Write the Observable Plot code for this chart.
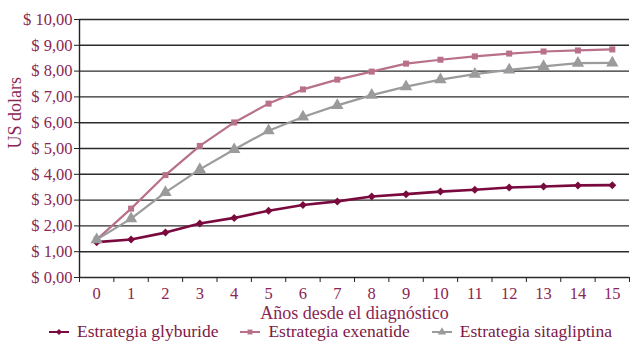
<!DOCTYPE html>
<html>
<head>
<meta charset="utf-8">
<script src="https://cdn.jsdelivr.net/npm/d3@7"></script>
<script src="https://cdn.jsdelivr.net/npm/@observablehq/plot@0.6"></script>
<style>
  html, body { margin: 0; padding: 0; background: #fff; }
  #wrap { position: relative; width: 631px; height: 342px; overflow: hidden; font-family: "Liberation Serif", "DejaVu Serif", serif; }
  #chart { position: absolute; left: 0; top: 0; }
  #legend { position: absolute; left: 49px; top: 322px; width: 582px; display: flex; justify-content: flex-start; gap: 22px;
            font-size: 17.5px; line-height: 19px; color: #7d1846; white-space: nowrap; }
  #legend .item { display: flex; align-items: center; gap: 8px; }
</style>
</head>
<body>
<div id="wrap">
  <div id="chart"></div>
  <div id="legend"></div>
</div>
<script>
// Años desde el diagnóstico
const years = [0, 1, 2, 3, 4, 5, 6, 7, 8, 9, 10, 11, 12, 13, 14, 15];
// Costo acumulado (US dolars) por estrategia
const glyburide    = [1.37, 1.47, 1.74, 2.09, 2.31, 2.59, 2.81, 2.95, 3.14, 3.23, 3.33, 3.40, 3.49, 3.53, 3.57, 3.58];
const exenatide    = [1.47, 2.67, 3.97, 5.10, 6.01, 6.74, 7.29, 7.67, 7.98, 8.29, 8.44, 8.57, 8.68, 8.76, 8.80, 8.84];
const sitagliptina = [1.47, 2.28, 3.30, 4.19, 4.96, 5.69, 6.22, 6.67, 7.07, 7.40, 7.67, 7.88, 8.05, 8.18, 8.31, 8.32];
const yTicks = [0, 1, 2, 3, 4, 5, 6, 7, 8, 9, 10];

const series = [
  {name: "Estrategia glyburide",    values: glyburide,    color: "#7a0a3e", symbol: "diamond2", r: 3.6, sw: 2.6},
  {name: "Estrategia exenatide",    values: exenatide,    color: "#b8708b", symbol: "square",   r: 3.4, sw: 2.2},
  {name: "Estrategia sitagliptina", values: sitagliptina, color: "#9b9b9d", symbol: "triangle", r: 4.6, sw: 2.2}
];

const rows = series.flatMap(s => years.map((yr, i) => ({serie: s.name, year: yr, value: s.values[i]})));
const boundaries = d3.range(-0.5, 16, 1);
const textColor = "#8a2654";
const fmt = v => "$ " + v.toFixed(2).replace(".", ",");

const marks = [
  Plot.ruleY(yTicks, {stroke: "#2b2b2b", strokeWidth: 1.4}),
  Plot.ruleX([-0.5], {stroke: "#222", strokeWidth: 1.4}),
  Plot.axisY(yTicks, {tickFormat: fmt, tickSize: 5, tickPadding: 2, fontSize: 16.5, color: textColor, stroke: "#222",
    label: null}),
  Plot.axisX(years, {tickSize: 0, tickPadding: 10, fontSize: 16.5, color: textColor, label: null}),
  Plot.axisX(boundaries, {tickFormat: () => "", tickSize: 5, stroke: "#222", label: null}),
  Plot.text(["US dolars"], {frameAnchor: "left", dx: -64, rotate: -90, fontSize: 18, fill: textColor}),
  Plot.text(["Años desde el diagnóstico"], {frameAnchor: "bottom", dy: 41, fontSize: 18, fill: textColor})
];
for (const s of series) {
  const d = rows.filter(r => r.serie === s.name);
  marks.push(Plot.line(d, {x: "year", y: "value", stroke: s.color, strokeWidth: s.sw}));
}
for (const s of series) {
  const d = rows.filter(r => r.serie === s.name);
  marks.push(Plot.dot(d, {x: "year", y: "value", symbol: s.symbol, fill: s.color, stroke: "none", r: s.r}));
}

const chart = Plot.plot({
  width: 631,
  height: 321,
  marginLeft: 79,
  marginRight: 2,
  marginTop: 19,
  marginBottom: 44,
  style: {fontFamily: "Liberation Serif, DejaVu Serif, serif", background: "#fff", overflow: "visible"},
  x: {type: "linear", domain: [-0.5, 15.5]},
  y: {domain: [0, 10]},
  marks
});
document.getElementById("chart").appendChild(chart);

// Leyenda con muestra de línea y marcador
const legend = d3.select("#legend");
for (const s of series) {
  const item = legend.append("div").attr("class", "item");
  const sw = item.append("svg").attr("width", 20).attr("height", 12);
  sw.append("line").attr("x1", 0).attr("x2", 20).attr("y1", 6).attr("y2", 6)
    .attr("stroke", s.color).attr("stroke-width", 2);
  const sym = {diamond2: d3.symbolDiamond2, square: d3.symbolSquare, triangle: d3.symbolTriangle}[s.symbol];
  sw.append("path").attr("transform", "translate(10,6)").attr("fill", s.color)
    .attr("d", d3.symbol(sym, s.symbol === "triangle" ? 30 : 24)());
  item.append("span").text(s.name);
}
</script>
</body>
</html>
